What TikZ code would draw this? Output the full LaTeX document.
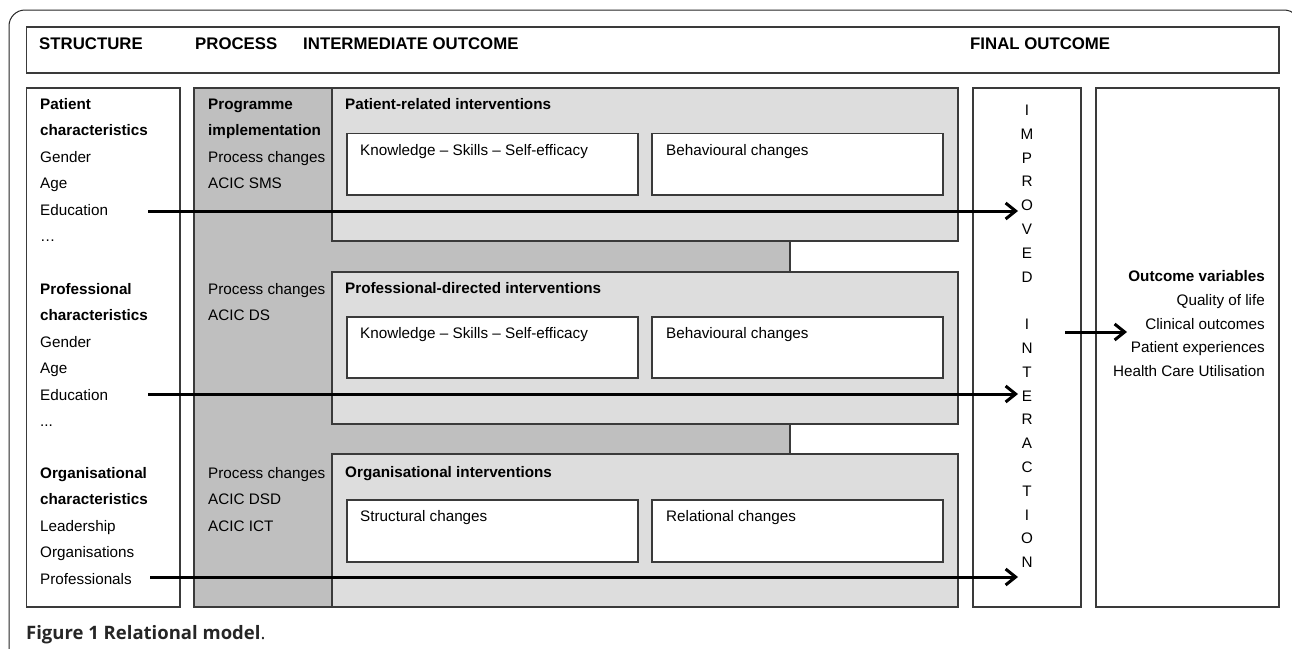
\documentclass[tikz,border=0pt]{standalone}
\usepackage{fontspec}
\setmainfont{Liberation Sans}
\newfontfamily\capfont{Open Sans}
\usetikzlibrary{arrows.meta}
\definecolor{darkgr}{HTML}{BFBFBF}
\definecolor{lightgr}{HTML}{DDDDDD}
\definecolor{edge}{HTML}{3A3A3A}
\begin{document}
\begin{tikzpicture}[x=1pt,y=-1pt,
  rbox/.style={draw=edge, line width=1.2pt, inner sep=0pt, outer sep=0pt, anchor=north west},
  txt/.style={anchor=base west, inner sep=0pt, font=\fontsize{15.25}{18}\selectfont},
  btxt/.style={anchor=base west, inner sep=0pt, font=\fontsize{15.25}{18}\selectfont\bfseries},
  htxt/.style={anchor=base west, inner sep=0pt, font=\fontsize{16.8}{20}\selectfont\bfseries},
  letter/.style={anchor=base, inner sep=0pt, font=\fontsize{15.25}{18}\selectfont},
  rtxt/.style={anchor=base east, inner sep=0pt, font=\fontsize{15.25}{18}\selectfont},
  rbtxt/.style={anchor=base east, inner sep=0pt, font=\fontsize{15.25}{18}\selectfont\bfseries},
  arr/.style={line width=3pt, -{Straight Barb[length=10pt,width=16pt]}},
]
\useasboundingbox (0,0) rectangle (1292,648);
\fill[white] (0,0) rectangle (1292,648);
% outer frame
\draw[line width=1pt, black!85, rounded corners=16] (9,670) -- (9,10) -- (1300,10) -- (1300,670);

% header
\node[rbox, minimum width=1252.5pt, minimum height=46pt] (header) at (26.5,27) {};
\node[htxt] (hS) at (39,49) {STRUCTURE};
\node[htxt] (hP) at (195,49) {PROCESS};
\node[htxt] (hI) at (303,49) {INTERMEDIATE OUTCOME};
\node[htxt] (hF) at (970,49) {FINAL OUTCOME};

% columns
\node[rbox, minimum width=153.5pt, minimum height=519pt] (structure) at (26.5,88) {};
\node[rbox, fill=darkgr, minimum width=596pt, minimum height=519pt] (process) at (194,88) {};
\node[rbox, fill=lightgr, minimum width=626pt, minimum height=153pt] (pat) at (332,88) {};
\node[rbox, fill=lightgr, minimum width=626pt, minimum height=152pt] (pro) at (332,272) {};
\node[rbox, fill=lightgr, minimum width=626pt, minimum height=153pt] (org) at (332,454) {};
\node[rbox, minimum width=108pt, minimum height=519pt] (improved) at (973,88) {};
\node[rbox, minimum width=183pt, minimum height=519pt] (outcome) at (1096,88) {};

% inner boxes
\node[rbox, fill=white, minimum width=291pt, minimum height=61.5pt] (patK) at (347,133.5) {};
\node[rbox, fill=white, minimum width=291pt, minimum height=61.5pt] (patB) at (652,133.5) {};
\node[rbox, fill=white, minimum width=291pt, minimum height=61pt] (proK) at (347,317) {};
\node[rbox, fill=white, minimum width=291pt, minimum height=61pt] (proB) at (652,317) {};
\node[rbox, fill=white, minimum width=291pt, minimum height=62pt] (orgS) at (347,500) {};
\node[rbox, fill=white, minimum width=291pt, minimum height=62pt] (orgR) at (652,500) {};

\node[txt] (tpatK) at (360,155) {Knowledge -- Skills -- Self-efficacy};
\node[txt] (tpatB) at (666,155) {Behavioural changes};
\node[txt] (tproK) at (360,338.5) {Knowledge -- Skills -- Self-efficacy};
\node[txt] (tproB) at (666,338.5) {Behavioural changes};
\node[txt] (torgS) at (360,521.5) {Structural changes};
\node[txt] (torgR) at (666,521.5) {Relational changes};

\node[btxt] (tpat) at (345,109.5) {Patient-related interventions};
\node[btxt] (tpro) at (345,293.5) {Professional-directed interventions};
\node[btxt] (torg) at (345,477.5) {Organisational interventions};

% structure column
\node[btxt] (s1) at (40,109.5) {Patient};
\node[btxt] (s2) at (40,135.9) {characteristics};
\node[txt] (s3) at (40,162.3) {Gender};
\node[txt] (s4) at (40,188.7) {Age};
\node[txt] (s5) at (40,215.1) {Education};
\node[txt] (s6) at (40,241.5) {\ldots};
\node[btxt] (p1) at (40,294.5) {Professional};
\node[btxt] (p2) at (40,320.9) {characteristics};
\node[txt] (p3) at (40,347.3) {Gender};
\node[txt] (p4) at (40,373.7) {Age};
\node[txt] (p5) at (40,400.1) {Education};
\node[txt] (p6) at (40,426.5) {...};
\node[btxt] (o1) at (40,478.5) {Organisational};
\node[btxt] (o2) at (40,504.9) {characteristics};
\node[txt] (o3) at (40,531.3) {Leadership};
\node[txt] (o4) at (40,557.7) {Organisations};
\node[txt] (o5) at (40,584.1) {Professionals};

% process column
\node[btxt] (q1) at (208,109.5) {Programme};
\node[btxt] (q2) at (208,135.9) {implementation};
\node[txt] (q3) at (208,162.3) {Process changes};
\node[txt] (q4) at (208,188.7) {ACIC SMS};
\node[txt] (q5) at (208,294.5) {Process changes};
\node[txt] (q6) at (208,320.9) {ACIC DS};
\node[txt] (q7) at (208,478.5) {Process changes};
\node[txt] (q8) at (208,504.9) {ACIC DSD};
\node[txt] (q9) at (208,531.3) {ACIC ICT};

% improved interaction letters
\foreach \l/\k in {I/0,M/1,P/2,R/3,O/4,V/5,E/6,D/7,I/9,N/10,T/11,E/12,R/13,A/14,C/15,T/16,I/17,O/18,N/19}
  \node[letter] (L\k) at (1027,115.5+\k*23.8) {\l};

% outcome variables
\node[rbtxt] (v0) at (1265,281.5) {Outcome variables};
\node[rtxt] (v1) at (1265,305.3) {Quality of life};
\node[rtxt] (v2) at (1265,329) {Clinical outcomes};
\node[rtxt] (v3) at (1265,352.8) {Patient experiences};
\node[rtxt] (v4) at (1265,376.6) {Health Care Utilisation};

% arrows
\coordinate (a1s) at (148,211);
\coordinate (a1e) at (1018,211);
\coordinate (a2s) at (148,394);
\coordinate (a2e) at (1018,394);
\coordinate (a3s) at (150,577);
\coordinate (a3e) at (1018,577);
\coordinate (a4s) at (1065,332);
\coordinate (a4e) at (1127,332);
\draw[arr] (a1s) -- (a1e);
\draw[arr] (a2s) -- (a2e);
\draw[arr] (a3s) -- (a3e);
\draw[arr] (a4s) -- (a4e);

% caption
\node[anchor=base west, inner sep=0pt, font=\capfont\fontsize{18.5}{22}\selectfont, text=black!85] (caption) at (26,639) {\textbf{Figure 1 Relational model}.};
\end{tikzpicture}
\end{document}
